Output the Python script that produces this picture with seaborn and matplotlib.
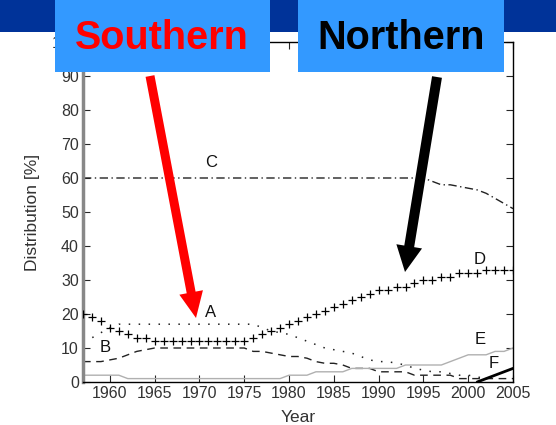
import numpy as np
import pandas as pd
import matplotlib
matplotlib.use('Agg')
import matplotlib.pyplot as plt
import matplotlib.patches as mpatches
import seaborn as sns

# yearly shares [%]
years = list(range(1957, 2006))

share_a = [12, 13, 14.5, 16, 17, 17, 17, 17, 17, 17, 17, 17, 17, 17, 17, 17, 17, 17, 17, 17,
           16, 15, 14.5, 14, 13, 12, 11, 10, 9.5, 9, 8.5, 7.5, 6.5, 6, 6, 5.5, 5, 4, 3.5, 3,
           3, 2.5, 2, 2, 1.5, 1]
share_b = [6, 6, 6, 6.5, 7, 8, 9, 9.5, 10, 10, 10, 10, 10, 10, 10, 10, 10, 10, 10, 9,
           9, 8.5, 8, 7.5, 7.5, 7, 6, 5.5, 5.5, 5, 4, 4, 4, 3, 3, 3, 3, 2, 2, 2,
           2, 2, 1, 1, 1, 1, 1, 1, 1]
share_c = [60] * 39 + [59, 58, 58, 57.5, 57, 56.5, 55.5, 54, 52.5, 51]
share_d = [20, 19, 18, 16, 15, 14, 13, 13, 12, 12, 12, 12, 12, 12, 12, 12, 12, 12, 12, 13,
           14, 15, 16, 17, 18, 19, 20, 21, 22, 23, 24, 25, 26, 27, 27, 28, 28, 29, 30, 30,
           31, 31, 32, 32, 32, 33, 33, 33, 33]
share_e = [2, 2, 2, 2, 2] + [1] * 18 + [2, 2, 2, 3, 3, 3, 3, 4, 4, 4, 4, 4, 4,
                                       5, 5, 5, 5, 5, 6, 7, 8, 8, 8, 9, 9, 10]
years_f = [2001, 2002, 2003, 2004, 2005]
share_f = [0, 1, 2, 3, 4]

labels = ['A', 'B', 'C', 'D', 'E', 'F']
label_pos = [(1971.2, 20.5), (1959.5, 10), (1971.3, 64.5), (2001.3, 36), (2001.3, 12.5), (2002.8, 5.5)]

sns.set_style('white')
plt.rcParams['font.family'] = ['Liberation Sans', 'DejaVu Sans']

fig = plt.figure(figsize=(5.56, 4.25), dpi=100)
ax = fig.add_axes([83 / 556, 43 / 425, 430 / 556, 340 / 425])

ink = '#222222'
sns.lineplot(x=years[:len(share_a)], y=share_a, ax=ax, color=ink, lw=1.1, linestyle=(0, (1, 5.5)))
sns.lineplot(x=years, y=share_b, ax=ax, color=ink, lw=1, linestyle=(0, (5.5, 4)))
sns.lineplot(x=years, y=share_c, ax=ax, color=ink, lw=1, linestyle=(0, (6, 2.5, 1, 2.5)))
sns.scatterplot(x=years, y=share_d, ax=ax, color='black', marker='+', s=28, linewidth=0.9, zorder=3)
sns.lineplot(x=years, y=share_e, ax=ax, color='#b0b0b0', lw=1)
sns.lineplot(x=years_f, y=share_f, ax=ax, color='black', lw=2)

for lab, (lx, ly) in zip(labels, label_pos):
    ax.text(lx, ly, lab, fontsize=12, ha='center', va='center', color='#111111')

ax.set_xlim(1957, 2005)
ax.set_ylim(0, 100)
ax.set_xticks(range(1960, 2006, 5))
ax.set_yticks(range(0, 101, 10))
ax.tick_params(direction='in', length=5, labelsize=11.5, labelcolor='#333333',
               top=True, right=True, bottom=True, left=True, pad=3)
ax.set_xlabel('Year', fontsize=12.5, color='#333333', labelpad=6)
ax.set_ylabel('Distribution [%]', fontsize=12.5, color='#333333', labelpad=9)
for side in ['top', 'right', 'bottom']:
    ax.spines[side].set_color('black')
    ax.spines[side].set_linewidth(1)
ax.spines['left'].set_color('#888888')
ax.spines['left'].set_linewidth(2.5)

# overlay in pixel coordinates for the banner, boxes and arrows
ov = fig.add_axes([0, 0, 1, 1], zorder=10)
ov.set_xlim(0, 556)
ov.set_ylim(425, 0)
ov.axis('off')
ov.patch.set_alpha(0)

ov.add_patch(mpatches.Rectangle((0, 0), 556, 32, color='#003399', lw=0))
ov.add_patch(mpatches.Rectangle((55, 0), 215, 72, color='#3399ff', lw=0))
ov.add_patch(mpatches.Rectangle((298, 0), 206, 72, color='#3399ff', lw=0))
ov.text(162, 38, 'Southern', color='red', fontsize=28.5, fontweight='bold', ha='center', va='center')
ov.text(401, 38, 'Northern', color='black', fontsize=28.5, fontweight='bold', ha='center', va='center')

ov.add_patch(mpatches.FancyArrow(150, 76, 46, 242, width=9, head_width=24, head_length=26,
                                 length_includes_head=True, color='red', lw=0))
ov.add_patch(mpatches.FancyArrow(437, 77, -32, 195, width=10, head_width=26, head_length=26,
                                 length_includes_head=True, color='black', lw=0))

fig.savefig('out.png', dpi=100)
